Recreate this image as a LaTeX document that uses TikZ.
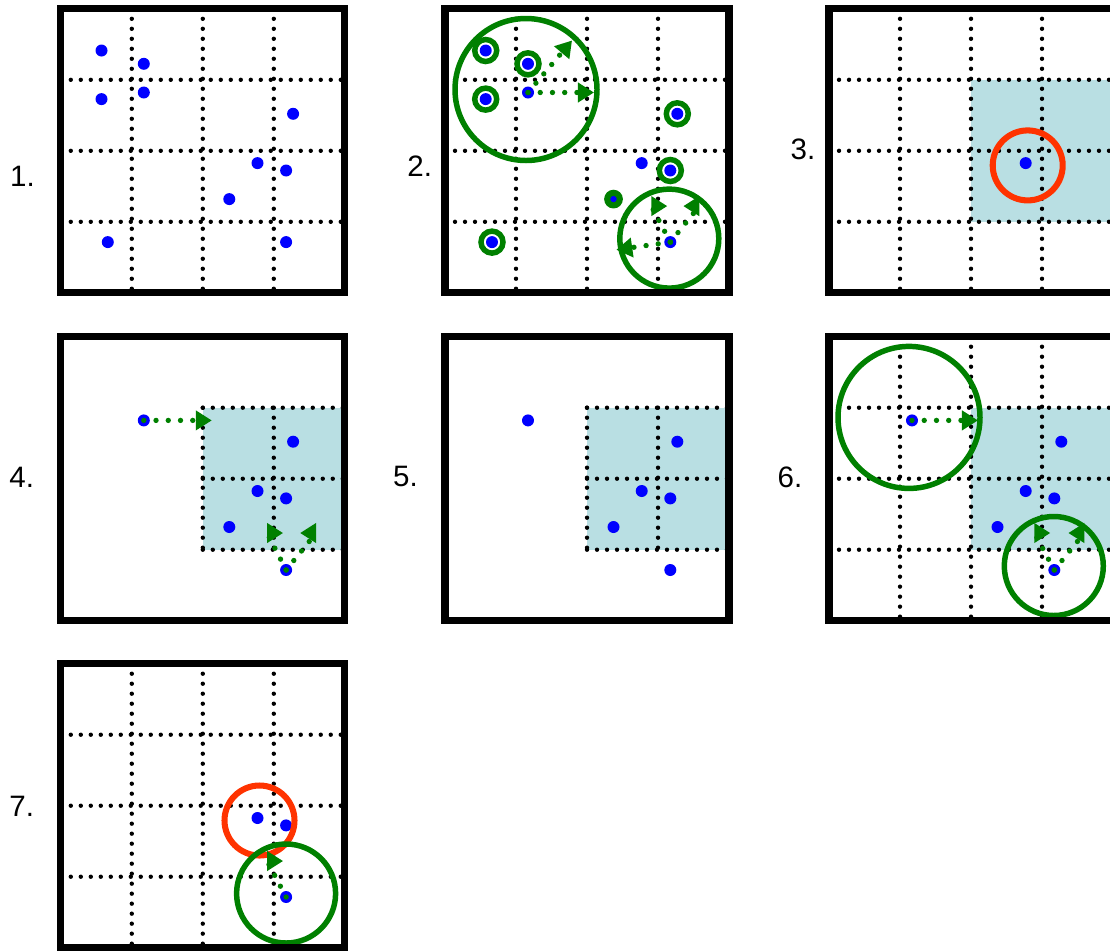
\documentclass[tikz,border=0pt]{standalone}
\usepackage{fontspec}
\setmainfont{Liberation Sans}
\usetikzlibrary{arrows.meta}

\definecolor{ptblue}{RGB}{0,0,255}
\definecolor{ptgreen}{RGB}{0,128,0}
\definecolor{ptred}{RGB}{255,51,0}
\definecolor{cellshade}{RGB}{185,223,227}

% the ten sample points, local pixel coordinates of a 4x4 cell board (cell = 71)
\newcommand\ptlist{40.7/41.7/1,83/55/2,40.7/90.3/3,83/83.7/4,232.3/105/5,%
196.7/154.3/6,225.3/161.7/7,168.5/190.3/8,47/233.3/9,225.3/233.3/10}

\begin{document}
\begin{tikzpicture}[x=0.025cm,y=-0.025cm,
  boxframe/.style={line width=5pt},
  griddot/.style={line width=3.1pt,line cap=round,dash pattern=on 0pt off 7.11pt},
  datapt/.style={fill=ptblue},
  hitring/.style={draw=ptgreen,fill=white,line width=3.9pt},
  search/.style={draw=ptgreen,line width=3.9pt},
  query/.style={draw=ptred,line width=4.3pt},
  shiftarrow/.style={draw=ptgreen,line width=3.8pt,line cap=round,
    dash pattern=on 0pt off 8.7pt,-{Triangle[length=11.4pt,width=13.5pt]}},
  lab/.style={font=\fontsize{21}{25}\selectfont,inner sep=0pt}]
\useasboundingbox (0,0) rectangle (1110,950);
\clip (0,0) rectangle (1110,950);

% step labels
\node[lab] (n1) at (22.5,176.5) {1.};
\node[lab] (n2) at (419.7,166) {2.};
\node[lab] (n3) at (803,149) {3.};
\node[lab] (n4) at (21.7,477.5) {4.};
\node[lab] (n5) at (405.5,476) {5.};
\node[lab] (n6) at (790,477.5) {6.};
\node[lab] (n7) at (21.7,806.7) {7.};

% 1. all points on the full grid
\begin{scope}[shift={(60.8,8.8)},name prefix=a-]
  \foreach \k in {71,142,213} {
    \draw[griddot] (\k,0) -- (\k,284);
    \draw[griddot] (0,\k) -- (284,\k);
  }
  \foreach \xx/\yy/\i in \ptlist {\coordinate (p\i) at (\xx,\yy);}
  \foreach \i in {1,...,10} \fill[datapt] (p\i) circle (6);
  \draw[boxframe] (0,0) rectangle (284,284);
\end{scope}

% 2. neighbour search around two points
\begin{scope}[shift={(445,8.8)},name prefix=b-]
  \foreach \k in {71,142,213} {
    \draw[griddot] (\k,0) -- (\k,284);
    \draw[griddot] (0,\k) -- (284,\k);
  }
  \foreach \xx/\yy/\i in \ptlist {\coordinate (p\i) at (\xx,\yy);}
  \foreach \i in {1,2,3,5,7,9} \draw[hitring] (p\i) circle (11);
  \foreach \i in {1,...,10} \fill[datapt] (p\i) circle (6);
  \draw[ptgreen,line width=4.3pt] (p8) circle (6.3);
  \draw[search] (p4) ++(-2,-3) circle (71);
  \draw[search] (p10) ++(-1,-3.5) circle (49.5);
  \draw[shiftarrow] (p4) -- ++(66,0);
  \draw[shiftarrow] (p4) -- ++(44,-52);
  \draw[shiftarrow] (p10) -- ++(-54,7.7);
  \draw[shiftarrow] (p10) -- ++(-19,-36) -- ++(16,0);
  \draw[shiftarrow] (p10) -- ++(29,-36) -- ++(-16,0);
  \draw[boxframe] (0,0) rectangle (284,284);
\end{scope}

% 3. query point and its cell block
\begin{scope}[shift={(829,8.8)},name prefix=c-]
  \fill[cellshade] (142,71) rectangle (284,213);
  \foreach \k in {71,142,213} {
    \draw[griddot] (\k,0) -- (\k,284);
    \draw[griddot] (0,\k) -- (284,\k);
  }
  \foreach \xx/\yy/\i in \ptlist {\coordinate (p\i) at (\xx,\yy);}
  \fill[datapt] (p6) circle (6);
  \draw[query] (p6) ++(2,2.3) circle (35);
  \draw[boxframe] (0,0) rectangle (284,284);
\end{scope}

% 4. moves into the block
\begin{scope}[shift={(60.8,336.7)},name prefix=d-]
  \fill[cellshade] (142,71) rectangle (284,213);
  \foreach \k in {71,142,213} \draw[griddot] (142,\k) -- (284,\k);
  \foreach \k in {142,213} \draw[griddot] (\k,71) -- (\k,213);
  \foreach \xx/\yy/\i in \ptlist {\coordinate (p\i) at (\xx,\yy);}
  \foreach \i in {4,5,6,7,8,10} \fill[datapt] (p\i) circle (6);
  \draw[shiftarrow] (p4) -- ++(68,0);
  \draw[shiftarrow] (p10) -- ++(-19,-37) -- ++(16,0);
  \draw[shiftarrow] (p10) -- ++(30,-37) -- ++(-16,0);
  \draw[boxframe] (0,0) rectangle (284,284);
\end{scope}

% 5. block only
\begin{scope}[shift={(445,336.7)},name prefix=e-]
  \fill[cellshade] (142,71) rectangle (284,213);
  \foreach \k in {71,142,213} \draw[griddot] (142,\k) -- (284,\k);
  \foreach \k in {142,213} \draw[griddot] (\k,71) -- (\k,213);
  \foreach \xx/\yy/\i in \ptlist {\coordinate (p\i) at (\xx,\yy);}
  \foreach \i in {4,5,6,7,8,10} \fill[datapt] (p\i) circle (6);
  \draw[boxframe] (0,0) rectangle (284,284);
\end{scope}

% 6. block with search circles
\begin{scope}[shift={(829,336.7)},name prefix=f-]
  \fill[cellshade] (142,71) rectangle (284,213);
  \foreach \k in {71,142,213} {
    \draw[griddot] (\k,0) -- (\k,284);
    \draw[griddot] (0,\k) -- (284,\k);
  }
  \foreach \xx/\yy/\i in \ptlist {\coordinate (p\i) at (\xx,\yy);}
  \foreach \i in {4,5,6,7,8,10} \fill[datapt] (p\i) circle (6);
  \draw[search] (p4) ++(-3,-3) circle (71);
  \draw[search] (p10) ++(-0.5,-4) circle (49.5);
  \draw[shiftarrow] (p4) -- ++(66,0);
  \draw[shiftarrow] (p10) -- ++(-20,-37) -- ++(16,0);
  \draw[shiftarrow] (p10) -- ++(30,-37) -- ++(-16,0);
  \draw[boxframe] (0,0) rectangle (284,284);
\end{scope}

% 7. query circle meets a search circle
\begin{scope}[shift={(60.8,663.7)},name prefix=g-]
  \foreach \k in {71,142,213} {
    \draw[griddot] (\k,0) -- (\k,284);
    \draw[griddot] (0,\k) -- (284,\k);
  }
  \foreach \xx/\yy/\i in \ptlist {\coordinate (p\i) at (\xx,\yy);}
  \foreach \i in {6,7,10} \fill[datapt] (p\i) circle (6);
  \draw[query] (p6) ++(2,2.5) circle (35);
  \draw[search] (p10) ++(0,-3.5) circle (49.5);
  \draw[shiftarrow] (p10) -- ++(-19,-36) -- ++(16,0);
  \draw[boxframe] (0,0) rectangle (284,284);
\end{scope}
\end{tikzpicture}
\end{document}
